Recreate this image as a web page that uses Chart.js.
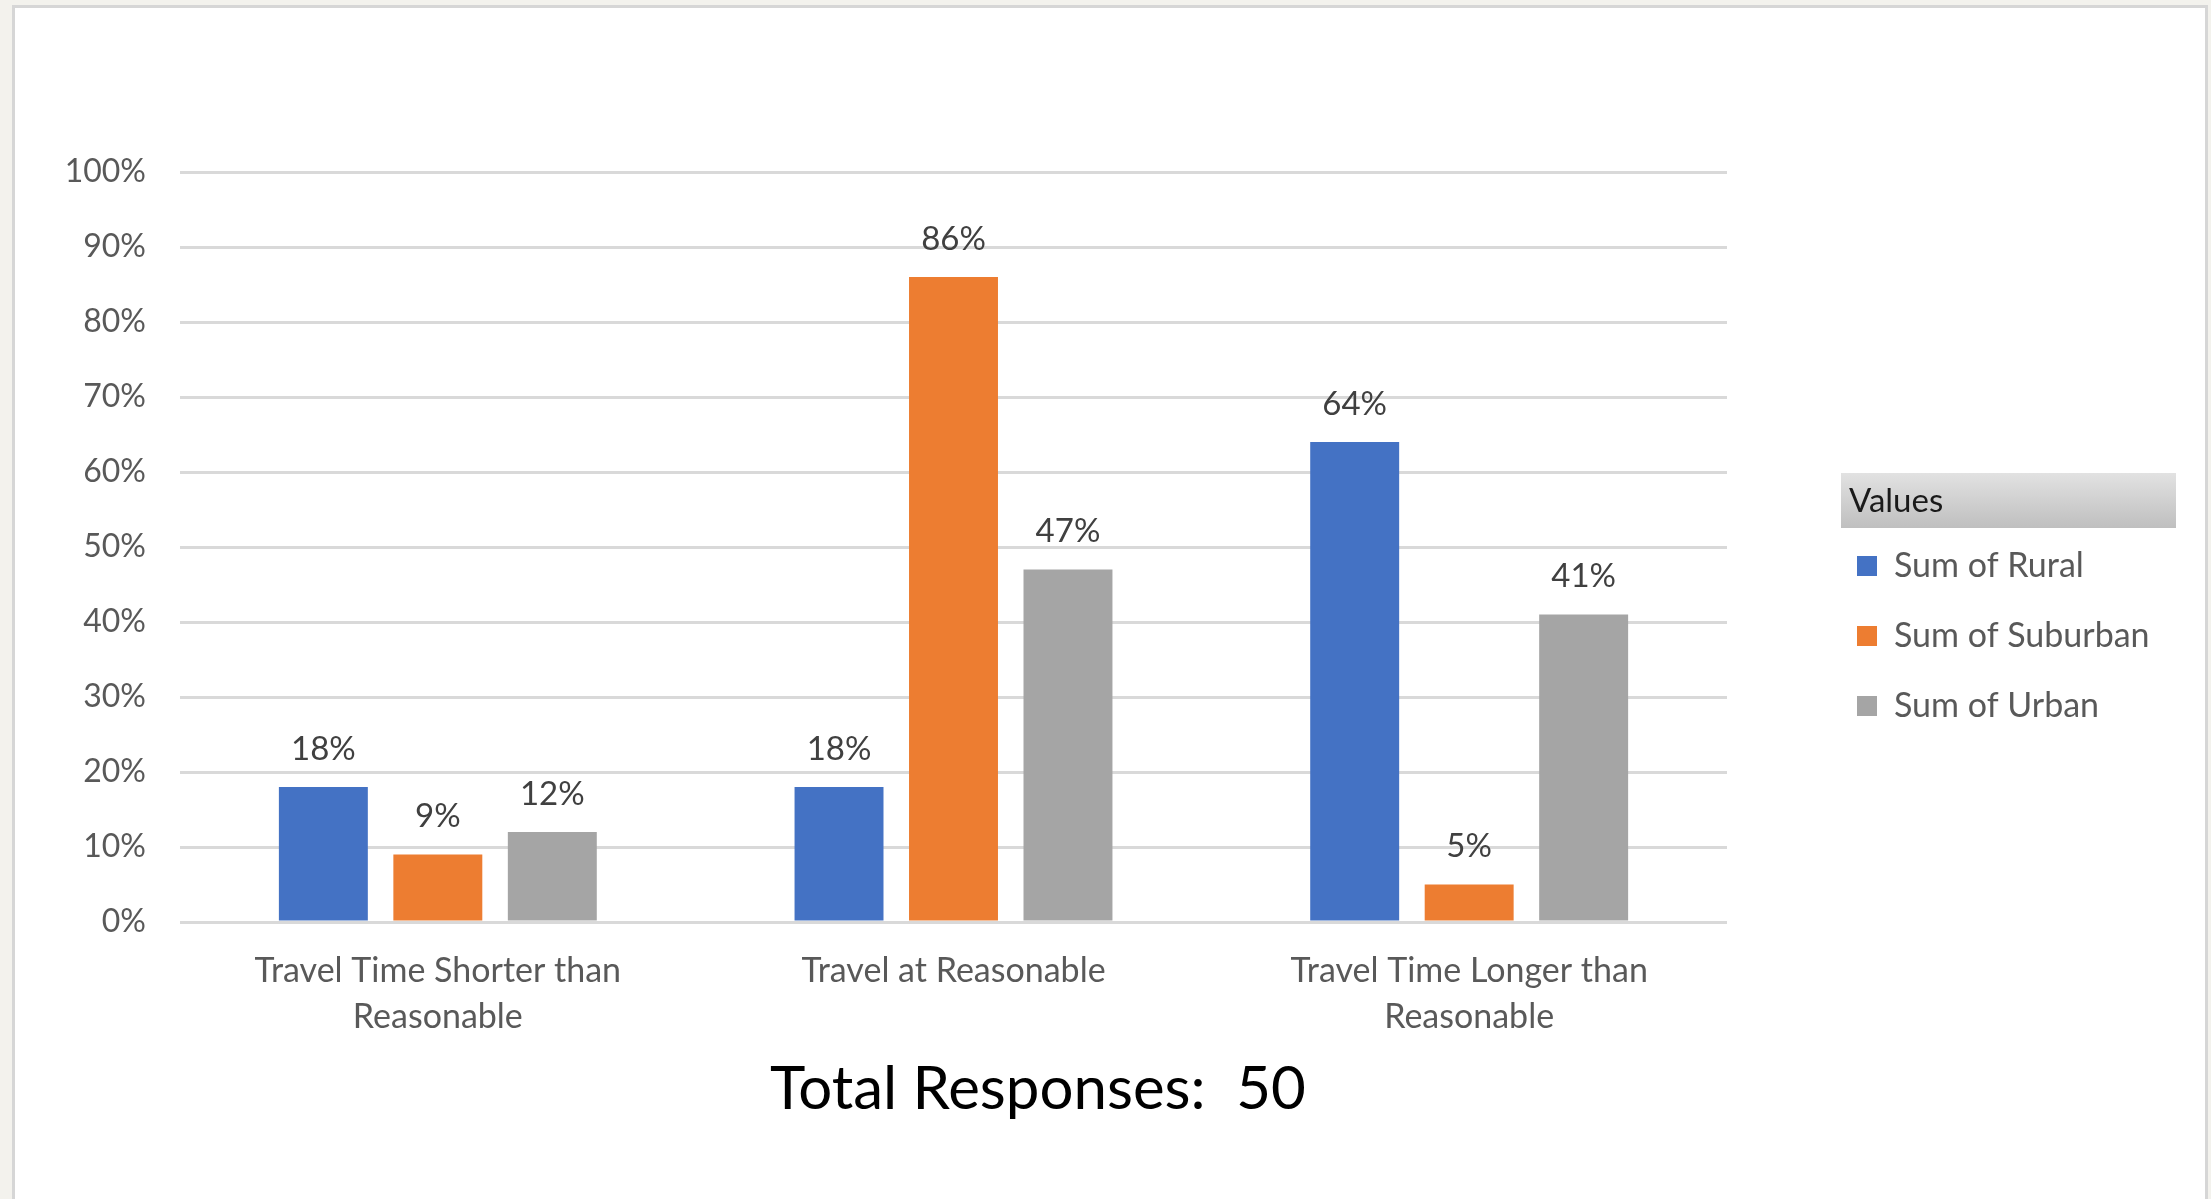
<!DOCTYPE html>
<html>
<head>
<meta charset="utf-8">
<title>Travel Time by Area</title>
<script src="https://cdn.jsdelivr.net/npm/chart.js@4/dist/chart.umd.min.js"></script>
<style>
  html, body { margin: 0; padding: 0; background: #f3f2ed; overflow: hidden; }
  #panel {
    position: absolute; left: 12px; top: 5px; width: 2190px; height: 1300px;
    background: #ffffff; border: 3px solid #d6d6d6; border-bottom: none;
  }
  #chart { position: absolute; left: 0; top: 0; }
</style>
</head>
<body>
<div id="panel"></div>
<canvas id="chart" width="2211" height="1199"></canvas>
<script>
// Response categories (x-axis), wrapped over two lines where needed
const categories = [
  ['Travel Time Shorter than', 'Reasonable'],
  ['Travel at Reasonable'],
  ['Travel Time Longer than', 'Reasonable']
];

// Share of responses per area type, in percent
const rural    = [18, 18, 64];
const suburban = [9, 86, 5];
const urban    = [12, 47, 41];

const seriesNames = ['Sum of Rural', 'Sum of Suburban', 'Sum of Urban'];
const yTicks = [0, 10, 20, 30, 40, 50, 60, 70, 80, 90, 100];
const legendHeader = 'Values';
const chartTitle = 'Total Responses:  50';

const FONT = 'Lato, Carlito, Calibri, sans-serif';
const TEXT_GREY = '#595959';

// Values printed above each bar
const barValueLabels = {
  id: 'barValueLabels',
  afterDatasetsDraw(chart) {
    const ctx = chart.ctx;
    ctx.save();
    ctx.font = '33px ' + FONT;
    ctx.fillStyle = '#404040';
    ctx.textAlign = 'center';
    ctx.textBaseline = 'middle';
    chart.data.datasets.forEach((ds, i) => {
      chart.getDatasetMeta(i).data.forEach((bar, j) => {
        ctx.fillText(ds.data[j] + '%', bar.x, bar.y - 38);
      });
    });
    ctx.restore();
  }
};

// Puts the legend block beside the plot and centres the bottom title
const boxPlacement = {
  id: 'boxPlacement',
  afterLayout(chart) {
    const lg = chart.legend;
    lg.left = 1821; lg.right = 2200;
    lg.top = 513; lg.bottom = 800;
    const t = chart.titleBlock;
    const cx = 1038, half = 700;
    t.left = cx - half; t.right = cx + half;
  },
  beforeDraw(chart) {
    // shaded header strip above the legend entries
    const ctx = chart.ctx;
    const x = 1841, y = 473, w = 335, h = 55;
    ctx.save();
    const g = ctx.createLinearGradient(0, y, 0, y + h);
    g.addColorStop(0, '#e2e2e2');
    g.addColorStop(1, '#bfbfbf');
    ctx.fillStyle = g;
    ctx.fillRect(x, y, w, h);
    ctx.font = '33px ' + FONT;
    ctx.fillStyle = '#1a1a1a';
    ctx.textAlign = 'left';
    ctx.textBaseline = 'middle';
    ctx.fillText(legendHeader, x + 8, y + h / 2 + 1);
    ctx.restore();
  }
};

function build() {
  new Chart(document.getElementById('chart'), {
    type: 'bar',
    data: {
      labels: categories,
      datasets: [
        { label: seriesNames[0], data: rural,    backgroundColor: '#4472c4' },
        { label: seriesNames[1], data: suburban, backgroundColor: '#ed7d31' },
        { label: seriesNames[2], data: urban,    backgroundColor: '#a5a5a5' }
      ]
    },
    options: {
      responsive: false,
      animation: false,
      devicePixelRatio: 1,
      layout: { padding: { left: 0, right: 484, top: 172, bottom: 63 } },
      datasets: { bar: { categoryPercentage: 0.666, barPercentage: 0.777 } },
      scales: {
        x: {
          grid: { display: false, drawTicks: false },
          border: { display: false },
          ticks: {
            color: TEXT_GREY,
            padding: 26,
            maxRotation: 0,
            autoSkip: false,
            font: { family: FONT, size: 34, lineHeight: 1.35 }
          },
          afterFit(s) { s.height = 120; }
        },
        y: {
          min: 0,
          max: 100,
          afterBuildTicks(s) { s.ticks = yTicks.map(v => ({ value: v })); },
          grid: { color: '#d9d9d9', lineWidth: 3, drawTicks: false },
          border: { display: false },
          ticks: {
            color: TEXT_GREY,
            padding: 34,
            font: { family: FONT, size: 32 },
            callback: v => v + '%'
          },
          afterFit(s) { s.width = 180; }
        }
      },
      plugins: {
        legend: {
          position: 'chartArea',
          align: 'start',
          labels: {
            color: TEXT_GREY,
            boxWidth: 20,
            boxHeight: 20,
            padding: 36,
            font: { family: FONT, size: 34 }
          }
        },
        title: {
          display: true,
          position: 'bottom',
          text: chartTitle,
          color: '#000000',
          font: { family: FONT, size: 60, weight: 'normal', lineHeight: 1.2 },
          padding: { top: 12, bottom: 10 }
        },
        tooltip: { enabled: false }
      }
    },
    plugins: [barValueLabels, boxPlacement]
  });
}

if (document.fonts && document.fonts.load) {
  Promise.all([
    document.fonts.load('32px Lato'),
    document.fonts.load('60px Lato')
  ]).then(build, build);
} else {
  build();
}
</script>
</body>
</html>
